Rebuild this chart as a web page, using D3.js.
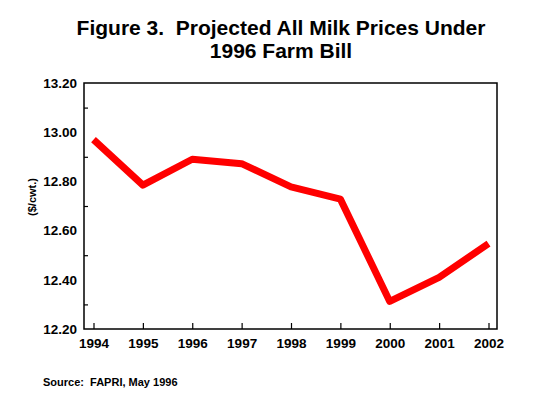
<!DOCTYPE html>
<html>
<head>
<meta charset="utf-8">
<script src="https://cdn.jsdelivr.net/npm/d3@7"></script>
<style>
  body { margin: 0; background: #fff; }
  text { font-family: "Liberation Sans", Arial, sans-serif; font-weight: bold; fill: #000; white-space: pre; }
</style>
</head>
<body>
<div id="chart"></div>
<script>
var svgWidth = 560;
var svgHeight = 397;

// chart data
var years = [1994, 1995, 1996, 1997, 1998, 1999, 2000, 2001, 2002];
var prices = [12.97, 12.785, 12.89, 12.872, 12.778, 12.728, 12.312, 12.41, 12.547];
var yTicks = [12.20, 12.40, 12.60, 12.80, 13.00, 13.20];
var yMinorTicks = [12.30, 12.50, 12.70, 12.90, 13.10];
var titleLines = ["Figure 3.  Projected All Milk Prices Under", "1996 Farm Bill"];

var box = { left: 84, right: 497, top: 83, bottom: 329 };

var svg = d3.select("#chart")
    .append("svg")
    .attr("width", svgWidth)
    .attr("height", svgHeight);

var xScale = d3.scaleLinear()
    .domain([1994, 2002])
    .range([93.5, 488.5]);

var yScale = d3.scaleLinear()
    .domain([12.2, 13.2])
    .range([box.bottom, box.top]);

// title
svg.selectAll(".title")
    .data(titleLines)
    .enter()
    .append("text")
    .attr("class", "title")
    .attr("x", 281)
    .attr("y", (d, i) => 35 + i * 23)
    .attr("text-anchor", "middle")
    .attr("xml:space", "preserve")
    .style("font-size", "21px")
    .text(d => d);

// frame
svg.append("rect")
    .attr("x", box.left)
    .attr("y", box.top)
    .attr("width", box.right - box.left)
    .attr("height", box.bottom - box.top)
    .attr("fill", "none")
    .attr("stroke", "#000")
    .attr("stroke-width", 1.5);

// x axis, ticks pointing up into the plot
var xAxis = d3.axisBottom(xScale)
    .tickValues(years)
    .tickFormat(d3.format("d"))
    .tickSizeInner(-6)
    .tickSizeOuter(0)
    .tickPadding(9);

var gx = svg.append("g")
    .attr("transform", `translate(0, ${box.bottom})`)
    .call(xAxis);
gx.select(".domain").remove();
gx.selectAll("line").attr("stroke-width", 1.2);
gx.selectAll("text").style("font-size", "13.5px");

// y axis, major ticks with labels
var yAxis = d3.axisLeft(yScale)
    .tickValues(yTicks)
    .tickFormat(d3.format(".2f"))
    .tickSize(0)
    .tickPadding(7);

var gy = svg.append("g")
    .attr("transform", `translate(${box.left}, 0)`)
    .call(yAxis);
gy.select(".domain").remove();
gy.selectAll("text").style("font-size", "13.5px");

// y minor ticks pointing right
var yMinor = d3.axisRight(yScale)
    .tickValues(yMinorTicks)
    .tickFormat("")
    .tickSize(4);

var gym = svg.append("g")
    .attr("transform", `translate(${box.left}, 0)`)
    .call(yMinor);
gym.select(".domain").remove();
gym.selectAll("line").attr("stroke-width", 1.2);

// y label
svg.append("text")
    .attr("transform", "translate(36, 197) rotate(-90)")
    .attr("text-anchor", "middle")
    .style("font-size", "11px")
    .text("($/cwt.)");

// price line
var line = d3.line()
    .x((d, i) => xScale(years[i]))
    .y(d => yScale(d));

svg.append("path")
    .datum(prices)
    .attr("d", line)
    .attr("fill", "none")
    .attr("stroke", "#ff0000")
    .attr("stroke-width", 7)
    .attr("stroke-linejoin", "round");

// source note
svg.append("text")
    .attr("x", 43)
    .attr("y", 386)
    .attr("xml:space", "preserve")
    .style("font-size", "11px")
    .text("Source:  FAPRI, May 1996");
</script>
</body>
</html>
